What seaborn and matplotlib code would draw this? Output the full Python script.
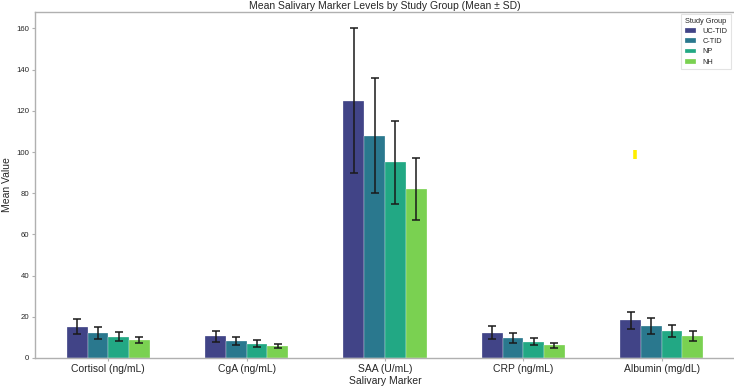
import matplotlib
matplotlib.use("Agg")
import matplotlib.pyplot as plt
import seaborn as sns
import pandas as pd

markers = ["Cortisol (ng/mL)", "CgA (ng/mL)", "SAA (U/mL)", "CRP (ng/mL)", "Albumin (mg/dL)"]
groups = ["UC-TID", "C-TID", "NP", "NH"]

mean_uc = [15.2, 10.5, 125.0, 12.2, 18.3]
mean_c = [12.0, 8.3, 108.0, 9.6, 15.5]
mean_np = [10.3, 7.0, 95.0, 8.0, 13.0]
mean_nh = [8.6, 5.8, 82.0, 6.2, 10.6]

sd_uc = [3.7, 2.8, 35.0, 3.1, 4.2]
sd_c = [3.0, 1.9, 28.0, 2.5, 3.7]
sd_np = [2.1, 1.5, 20.0, 1.8, 3.0]
sd_nh = [1.5, 1.1, 15.0, 1.3, 2.4]

colors = ["#414487", "#2A788E", "#22A884", "#7AD151"]

means = [mean_uc, mean_c, mean_np, mean_nh]
sds = [sd_uc, sd_c, sd_np, sd_nh]

rows = []
for g, m in zip(groups, means):
    for mk, v in zip(markers, m):
        rows.append({"Salivary Marker": mk, "Study Group": g, "Mean Value": v})
df = pd.DataFrame(rows)

sns.set_style("ticks")
plt.rcParams["font.family"] = ["Liberation Sans", "DejaVu Sans"]

fig = plt.figure(figsize=(7.34, 3.86), dpi=100)
ax = fig.add_axes([35 / 734, 28 / 386, 700 / 734, 346 / 386])

sns.barplot(data=df, x="Salivary Marker", y="Mean Value", hue="Study Group",
            hue_order=groups, order=markers, palette=colors, width=0.6,
            errorbar=None, ax=ax, edgecolor="white", linewidth=0.2, saturation=1)

for cont, sd in zip(ax.containers, sds):
    xs = [b.get_x() + b.get_width() / 2 for b in cont]
    ys = [b.get_height() for b in cont]
    ax.errorbar(xs, ys, yerr=sd, fmt="none", ecolor="#1a1a1a", elinewidth=1.1,
                capsize=3.0, capthick=1.1)

# small yellow annotation mark seen in the reference
ax.plot([3.81, 3.81], [96.8, 100.8], color="#ffee00", lw=2.6, solid_capstyle="butt")

ax.set_xlim(-0.53, 4.53)
ax.set_ylim(0, 168)
ax.set_yticks([0, 20, 40, 60, 80, 100, 120, 140, 160])

for s in ax.spines.values():
    s.set_color("#b0b0b0")
    s.set_linewidth(1.0)

ax.tick_params(axis="y", labelsize=5.6, length=2.5, width=0.8, color="#b0b0b0", pad=1.5)
ax.tick_params(axis="x", labelsize=7.5, length=2.5, width=0.8, color="#b0b0b0", pad=1.5)
ax.set_xlabel("Salivary Marker", fontsize=7.5, labelpad=2)
ax.set_ylabel("Mean Value", fontsize=7.5, labelpad=3)
ax.set_title("Mean Salivary Marker Levels by Study Group (Mean ± SD)", fontsize=7.5, pad=2)

leg = ax.legend(title="Study Group", loc="upper right", fontsize=5.3, title_fontsize=5.3,
                handlelength=1.6, handleheight=0.6, frameon=True, fancybox=False,
                borderpad=0.45, labelspacing=0.45, borderaxespad=0.3,
                bbox_to_anchor=(0.997, 1.0))
leg.get_frame().set_edgecolor("#dddddd")
leg.get_frame().set_linewidth(0.8)

fig.savefig("out.png", dpi=100)
